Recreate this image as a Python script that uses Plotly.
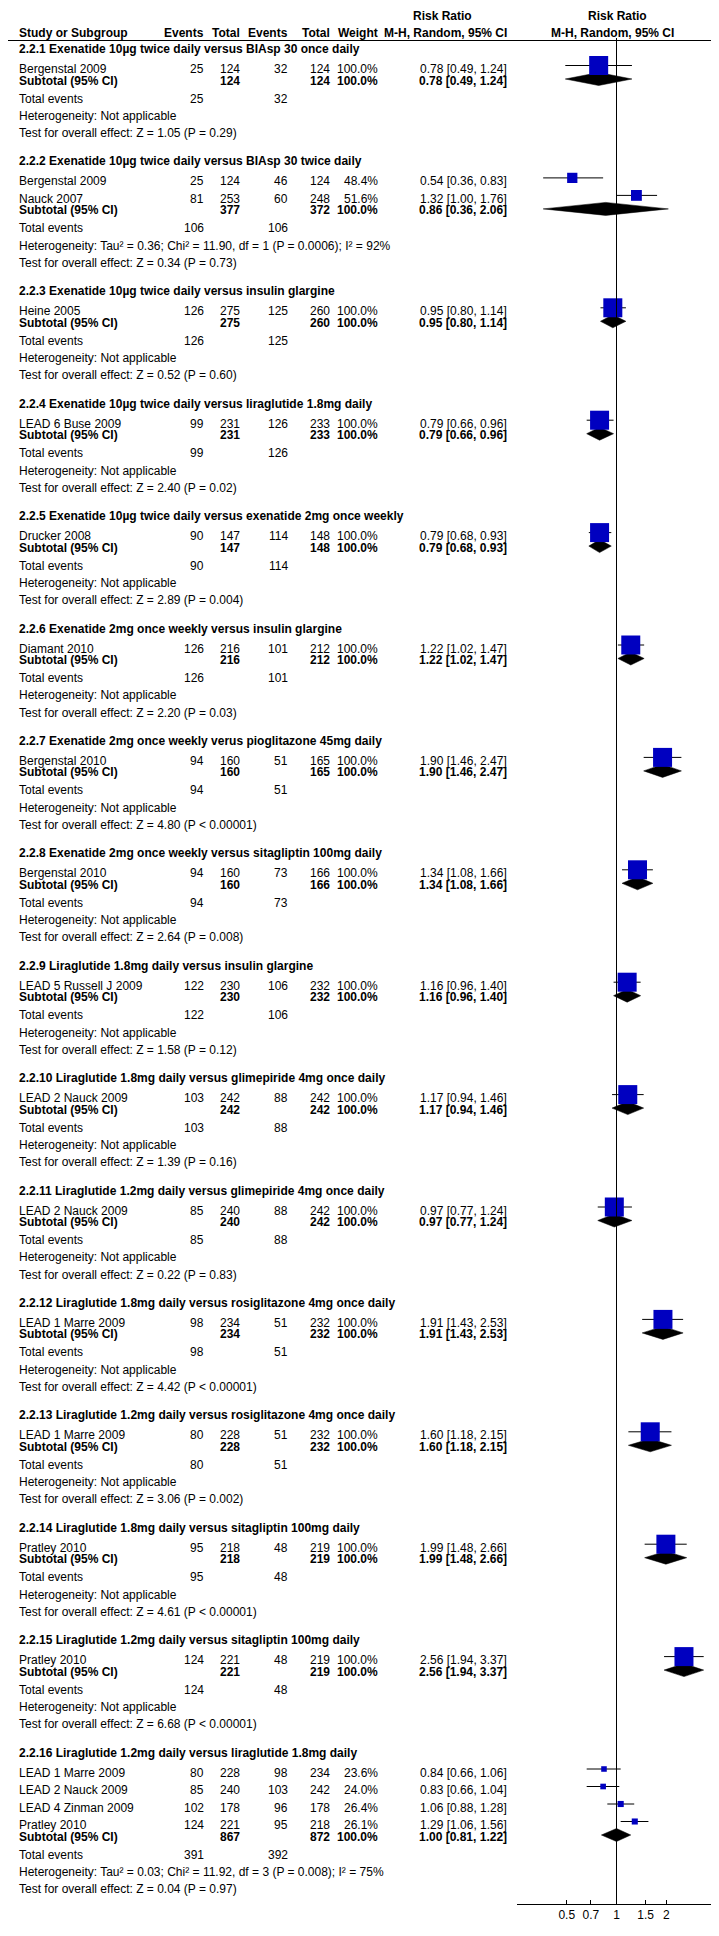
import plotly.graph_objects as go

# ---------------- data ----------------
group_titles = [
    "2.2.1 Exenatide 10µg twice daily versus BIAsp 30 once daily",
    "2.2.2 Exenatide 10µg twice daily versus BIAsp 30 twice daily",
    "2.2.3 Exenatide 10µg twice daily versus insulin glargine",
    "2.2.4 Exenatide 10µg twice daily versus liraglutide 1.8mg daily",
    "2.2.5 Exenatide 10µg twice daily versus exenatide 2mg once weekly",
    "2.2.6 Exenatide 2mg once weekly versus insulin glargine",
    "2.2.7 Exenatide 2mg once weekly verus pioglitazone 45mg daily",
    "2.2.8 Exenatide 2mg once weekly versus sitagliptin 100mg daily",
    "2.2.9 Liraglutide 1.8mg daily versus insulin glargine",
    "2.2.10 Liraglutide 1.8mg daily versus glimepiride 4mg once daily",
    "2.2.11 Liraglutide 1.2mg daily versus glimepiride 4mg once daily",
    "2.2.12 Liraglutide 1.8mg daily versus rosiglitazone 4mg once daily",
    "2.2.13 Liraglutide 1.2mg daily versus rosiglitazone 4mg once daily",
    "2.2.14 Liraglutide 1.8mg daily versus sitagliptin 100mg daily",
    "2.2.15 Liraglutide 1.2mg daily versus sitagliptin 100mg daily",
    "2.2.16 Liraglutide 1.2mg daily versus liraglutide 1.8mg daily",
]

# per-study data, grouped
study_names = [
    ["Bergenstal 2009"],
    ["Bergenstal 2009", "Nauck 2007"],
    ["Heine 2005"],
    ["LEAD 6 Buse 2009"],
    ["Drucker 2008"],
    ["Diamant 2010"],
    ["Bergenstal 2010"],
    ["Bergenstal 2010"],
    ["LEAD 5 Russell J 2009"],
    ["LEAD 2 Nauck 2009"],
    ["LEAD 2 Nauck 2009"],
    ["LEAD 1 Marre 2009"],
    ["LEAD 1 Marre 2009"],
    ["Pratley 2010"],
    ["Pratley 2010"],
    ["LEAD 1 Marre 2009", "LEAD 2 Nauck 2009", "LEAD 4 Zinman 2009", "Pratley 2010"],
]
exp_events = [[25], [25, 81], [126], [99], [90], [126], [94], [94], [122], [103], [85], [98], [80], [95], [124],
              [80, 85, 102, 124]]
exp_total = [[124], [124, 253], [275], [231], [147], [216], [160], [160], [230], [242], [240], [234], [228], [218], [221],
             [228, 240, 178, 221]]
ctl_events = [[32], [46, 60], [125], [126], [114], [101], [51], [73], [106], [88], [88], [51], [51], [48], [48],
              [98, 103, 96, 95]]
ctl_total = [[124], [124, 248], [260], [233], [148], [212], [165], [166], [232], [242], [242], [232], [232], [219], [219],
             [234, 242, 178, 218]]
study_weight = [[100.0], [48.4, 51.6], [100.0], [100.0], [100.0], [100.0], [100.0], [100.0], [100.0], [100.0], [100.0],
                [100.0], [100.0], [100.0], [100.0], [23.6, 24.0, 26.4, 26.1]]
study_rr = [[0.78], [0.54, 1.32], [0.95], [0.79], [0.79], [1.22], [1.90], [1.34], [1.16], [1.17], [0.97], [1.91], [1.60],
            [1.99], [2.56], [0.84, 0.83, 1.06, 1.29]]
study_lo = [[0.49], [0.36, 1.00], [0.80], [0.66], [0.68], [1.02], [1.46], [1.08], [0.96], [0.94], [0.77], [1.43], [1.18],
            [1.48], [1.94], [0.66, 0.66, 0.88, 1.06]]
study_hi = [[1.24], [0.83, 1.76], [1.14], [0.96], [0.93], [1.47], [2.47], [1.66], [1.40], [1.46], [1.24], [2.53], [2.15],
            [2.66], [3.37], [1.06, 1.04, 1.28, 1.56]]

# subtotals
sub_exp_total = [124, 377, 275, 231, 147, 216, 160, 160, 230, 242, 240, 234, 228, 218, 221, 867]
sub_ctl_total = [124, 372, 260, 233, 148, 212, 165, 166, 232, 242, 242, 232, 232, 219, 219, 872]
sub_rr = [0.78, 0.86, 0.95, 0.79, 0.79, 1.22, 1.90, 1.34, 1.16, 1.17, 0.97, 1.91, 1.60, 1.99, 2.56, 1.00]
sub_lo = [0.49, 0.36, 0.80, 0.66, 0.68, 1.02, 1.46, 1.08, 0.96, 0.94, 0.77, 1.43, 1.18, 1.48, 1.94, 0.81]
sub_hi = [1.24, 2.06, 1.14, 0.96, 0.93, 1.47, 2.47, 1.66, 1.40, 1.46, 1.24, 2.53, 2.15, 2.66, 3.37, 1.22]
tot_exp_events = [25, 106, 126, 99, 90, 126, 94, 94, 122, 103, 85, 98, 80, 95, 124, 391]
tot_ctl_events = [32, 106, 125, 126, 114, 101, 51, 73, 106, 88, 88, 51, 51, 48, 48, 392]
heterogeneity = [
    "Heterogeneity: Not applicable",
    "Heterogeneity: Tau² = 0.36; Chi² = 11.90, df = 1 (P = 0.0006); I² = 92%",
] + ["Heterogeneity: Not applicable"] * 13 + [
    "Heterogeneity: Tau² = 0.03; Chi² = 11.92, df = 3 (P = 0.008); I² = 75%",
]
overall_test = [
    "Test for overall effect: Z = 1.05 (P = 0.29)",
    "Test for overall effect: Z = 0.34 (P = 0.73)",
    "Test for overall effect: Z = 0.52 (P = 0.60)",
    "Test for overall effect: Z = 2.40 (P = 0.02)",
    "Test for overall effect: Z = 2.89 (P = 0.004)",
    "Test for overall effect: Z = 2.20 (P = 0.03)",
    "Test for overall effect: Z = 4.80 (P < 0.00001)",
    "Test for overall effect: Z = 2.64 (P = 0.008)",
    "Test for overall effect: Z = 1.58 (P = 0.12)",
    "Test for overall effect: Z = 1.39 (P = 0.16)",
    "Test for overall effect: Z = 0.22 (P = 0.83)",
    "Test for overall effect: Z = 4.42 (P < 0.00001)",
    "Test for overall effect: Z = 3.06 (P = 0.002)",
    "Test for overall effect: Z = 4.61 (P < 0.00001)",
    "Test for overall effect: Z = 6.68 (P < 0.00001)",
    "Test for overall effect: Z = 0.04 (P = 0.97)",
]
tick_values = [0.5, 0.7, 1, 1.5, 2]
tick_labels = ["0.5", "0.7", "1", "1.5", "2"]

# ---------------- layout constants ----------------
W, H = 719, 1936
FONT = "Arial, Liberation Sans, sans-serif"
FS = 12
TXT = "#000000"
X_LEFT = 10.5
X_EV1, X_TOT1, X_EV2, X_TOT2, X_WT, X_CI = 196, 232, 280, 321.5, 370, 498.5
X_DOM = (509 / W, 708 / W)
AXIS_Y = 1896
SQUARE = "#0000C0"

annotations = []


def txt(x, y, s, anchor="left", bold=False):
    annotations.append(dict(
        x=x / W, y=y, xref="paper", yref="y", text=("<b>%s</b>" % s) if bold else s,
        showarrow=False, xanchor=anchor, yanchor="middle", borderpad=0, borderwidth=0,
        font=dict(family=FONT, size=FS, color=TXT)))


# headers
txt(434, 8, "Risk Ratio", "center", True)
txt(609, 8, "Risk Ratio", "center", True)
txt(X_LEFT, 24.5, "Study or Subgroup", "left", True)
txt(X_EV1, 24.5, "Events", "right", True)
txt(X_TOT1, 24.5, "Total", "right", True)
txt(X_EV2, 24.5, "Events", "right", True)
txt(X_TOT2, 24.5, "Total", "right", True)
txt(X_WT, 24.5, "Weight", "right", True)
txt(X_CI, 24.5, "M-H, Random, 95% CI", "right", True)
txt(604, 24.5, "M-H, Random, 95% CI", "center", True)

ci_x, ci_y = [], []
sq_x, sq_y, sq_s = [], [], []
dm_x, dm_y = [], []

y = 41.0
for g in range(len(group_titles)):
    txt(X_LEFT, y, group_titles[g], "left", True)
    sy = y + 20
    for i, name in enumerate(study_names[g]):
        txt(X_LEFT, sy, name)
        txt(X_EV1, sy, str(exp_events[g][i]), "right")
        txt(X_TOT1, sy, str(exp_total[g][i]), "right")
        txt(X_EV2, sy, str(ctl_events[g][i]), "right")
        txt(X_TOT2, sy, str(ctl_total[g][i]), "right")
        txt(X_WT, sy, "%.1f%%" % study_weight[g][i], "right")
        txt(X_CI, sy, "%.2f [%.2f, %.2f]" % (study_rr[g][i], study_lo[g][i], study_hi[g][i]), "right")
        my = sy - 3.5
        ci_x += [study_lo[g][i], study_hi[g][i], None]
        ci_y += [my, my, None]
        sq_x.append(study_rr[g][i])
        sq_y.append(my)
        sq_s.append(19 * (study_weight[g][i] / 100.0) ** 0.85)
        last = sy
        sy += 17.5
    sub = last + 11.5
    txt(X_LEFT, sub, "Subtotal (95% CI)", "left", True)
    txt(X_TOT1, sub, str(sub_exp_total[g]), "right", True)
    txt(X_TOT2, sub, str(sub_ctl_total[g]), "right", True)
    txt(X_WT, sub, "100.0%", "right", True)
    txt(X_CI, sub, "%.2f [%.2f, %.2f]" % (sub_rr[g], sub_lo[g], sub_hi[g]), "right", True)
    hh = 6.5
    dy = sub - 1.5
    dm_x += [sub_lo[g], sub_rr[g], sub_hi[g], sub_rr[g], sub_lo[g], None]
    dm_y += [dy, dy - hh, dy, dy + hh, dy, None]
    te = sub + 18
    txt(X_LEFT, te, "Total events")
    txt(X_EV1, te, str(tot_exp_events[g]), "right")
    txt(X_EV2, te, str(tot_ctl_events[g]), "right")
    het = te + 17.3
    txt(X_LEFT, het, heterogeneity[g])
    tst = het + 17.3
    txt(X_LEFT, tst, overall_test[g])
    y = tst + 28.3

fig = go.Figure()
fig.add_trace(go.Scatter(x=dm_x, y=dm_y, mode="lines", fill="toself", fillcolor="#000000",
                         line=dict(color="#000000", width=0.5), hoverinfo="skip", showlegend=False))
fig.add_trace(go.Scatter(x=ci_x, y=ci_y, mode="lines", line=dict(color="#000000", width=1),
                         hoverinfo="skip", showlegend=False))
fig.add_trace(go.Scatter(x=sq_x, y=sq_y, mode="markers",
                         marker=dict(symbol="square", size=sq_s, color=SQUARE, opacity=1,
                                     line=dict(width=0)),
                         hoverinfo="skip", showlegend=False))

shapes = [
    dict(type="line", xref="paper", yref="y", x0=0, x1=1, y0=32.5, y1=32.5,
         line=dict(color="#000000", width=1)),
    dict(type="line", xref="x", yref="y", x0=1, x1=1, y0=30, y1=AXIS_Y,
         line=dict(color="#000000", width=1)),
]

fig.update_layout(
    width=W, height=H, margin=dict(l=0, r=0, t=0, b=0),
    paper_bgcolor="white", plot_bgcolor="white",
    annotations=annotations, shapes=shapes, showlegend=False,
    xaxis=dict(type="log", range=[-0.60206, 0.60206], domain=list(X_DOM),
               anchor="free", position=1 - AXIS_Y / H,
               showline=True, linecolor="#000000", linewidth=1,
               ticks="inside", ticklen=4, tickcolor="#000000", tickwidth=1,
               tickvals=tick_values, ticktext=tick_labels,
               tickfont=dict(family=FONT, size=FS, color=TXT),
               showgrid=False, zeroline=False, fixedrange=True),
    yaxis=dict(range=[H, 0], domain=[0, 1], visible=False, showgrid=False, zeroline=False,
               fixedrange=True),
)

fig.write_html("out.html")
